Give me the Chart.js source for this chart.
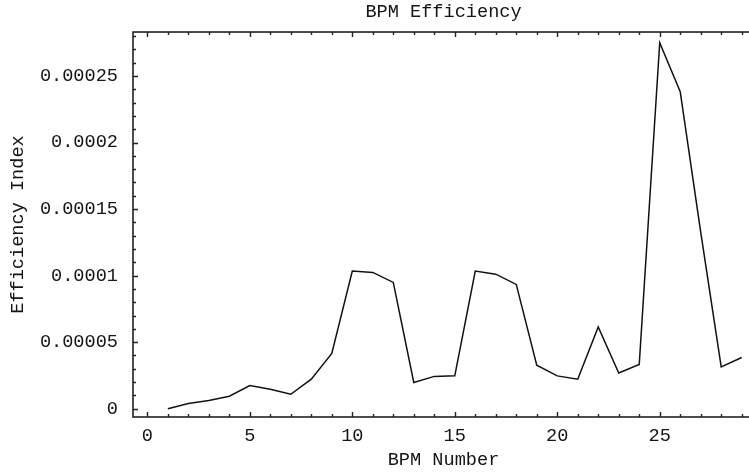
<!DOCTYPE html>
<html>
<head>
<meta charset="utf-8">
<script src="https://cdn.jsdelivr.net/npm/chart.js@4/dist/chart.umd.min.js"></script>
<style>
  html, body { margin: 0; padding: 0; background: #fff; overflow: hidden; }
  #wrap { width: 760px; height: 473px; position: relative; }
</style>
</head>
<body>
<div id="wrap"><canvas id="c" width="760" height="473"></canvas></div>
<script>
const bpmNumbers = [1, 2, 3, 4, 5, 6, 7, 8, 9, 10, 11, 12, 13, 14, 15, 16, 17, 18, 19, 20, 21, 22, 23, 24, 25, 26, 27, 28, 29];
const efficiency = [
  0.0000000, 0.0000039, 0.0000062, 0.0000094, 0.0000174, 0.0000147, 0.0000109, 0.0000222, 0.0000415, 0.0001034,
  0.0001024, 0.0000949, 0.0000197, 0.0000243, 0.0000247, 0.0001034, 0.0001011, 0.0000934, 0.0000327, 0.0000247,
  0.0000222, 0.0000615, 0.0000269, 0.0000332, 0.0002750, 0.0002382, 0.0001327, 0.0000314, 0.0000385
];
const xTickLabels = ['0', '5', '10', '15', '20', '25'];
const yTickLabels = ['0', '0.00005', '0.0001', '0.00015', '0.0002', '0.00025'];
const chartTitle = 'BPM Efficiency';
const xTitle = 'BPM Number';
const yTitle = 'Efficiency Index';

const FONT = { family: '"Liberation Mono", "Courier New", monospace', size: 18.6, lineHeight: 1.2 };
const INK = '#151515';

const framePlugin = {
  id: 'mmaFrame',
  afterDatasetsDraw(chart) {
    const { ctx, chartArea: a, scales: { x, y } } = chart;
    ctx.save();
    ctx.strokeStyle = '#222';
    ctx.lineWidth = 1.6;
    ctx.strokeRect(a.left, a.top, a.right - a.left, a.bottom - a.top);
    ctx.lineWidth = 1.4;
    ctx.beginPath();
    for (let i = Math.ceil(x.min); i <= Math.floor(x.max); i++) {
      const px = Math.round(x.getPixelForValue(i)) + 0.5;
      const len = i % 5 === 0 ? 5 : 3;
      ctx.moveTo(px, a.bottom); ctx.lineTo(px, a.bottom - len);
      ctx.moveTo(px, a.top); ctx.lineTo(px, a.top + len);
    }
    for (let j = 0; j * 1e-5 <= y.max; j++) {
      const py = Math.round(y.getPixelForValue(j * 1e-5)) + 0.5;
      const len = j % 5 === 0 ? 5 : 3;
      ctx.moveTo(a.left, py); ctx.lineTo(a.left + len, py);
      ctx.moveTo(a.right, py); ctx.lineTo(a.right - len, py);
    }
    ctx.stroke();
    ctx.restore();
  }
};

new Chart(document.getElementById('c'), {
  type: 'line',
  data: {
    datasets: [{
      data: bpmNumbers.map((n, i) => ({ x: n, y: efficiency[i] })),
      borderColor: '#111',
      borderWidth: 1.5,
      pointRadius: 0,
      tension: 0,
      fill: false
    }]
  },
  options: {
    responsive: false,
    animation: false,
    layout: { padding: { left: 0, right: 6, top: 0, bottom: 0 } },
    plugins: {
      legend: { display: false },
      tooltip: { enabled: false },
      title: {
        display: true,
        text: chartTitle,
        fullSize: false,
        color: INK,
        font: { ...FONT, weight: 'normal' },
        padding: { top: 0.5, bottom: 9.2 }
      }
    },
    scales: {
      x: {
        type: 'linear',
        min: -0.7,
        max: 29.6,
        grid: { display: false, drawTicks: false },
        border: { display: false },
        ticks: {
          stepSize: 5,
          includeBounds: false,
          autoSkip: false,
          maxRotation: 0,
          padding: 7.8,
          color: INK,
          font: FONT,
          callback: (v) => xTickLabels[Math.round(v / 5)] ?? ''
        },
        title: {
          display: true,
          text: xTitle,
          color: INK,
          font: FONT,
          padding: { top: 0, bottom: 1.8 }
        },
        afterFit: (s) => { s.height = 56; }
      },
      y: {
        type: 'linear',
        min: -0.0000062,
        max: 0.000283,
        grid: { display: false, drawTicks: false },
        border: { display: false },
        ticks: {
          stepSize: 0.00005,
          includeBounds: false,
          autoSkip: false,
          padding: 15,
          color: INK,
          font: FONT,
          callback: (v) => yTickLabels[Math.round(v / 0.00005)] ?? ''
        },
        title: {
          display: true,
          text: yTitle,
          color: INK,
          font: FONT,
          padding: { top: 7.3, bottom: 0 }
        },
        afterFit: (s) => { s.width = 133; }
      }
    }
  },
  plugins: [framePlugin]
});
</script>
</body>
</html>
